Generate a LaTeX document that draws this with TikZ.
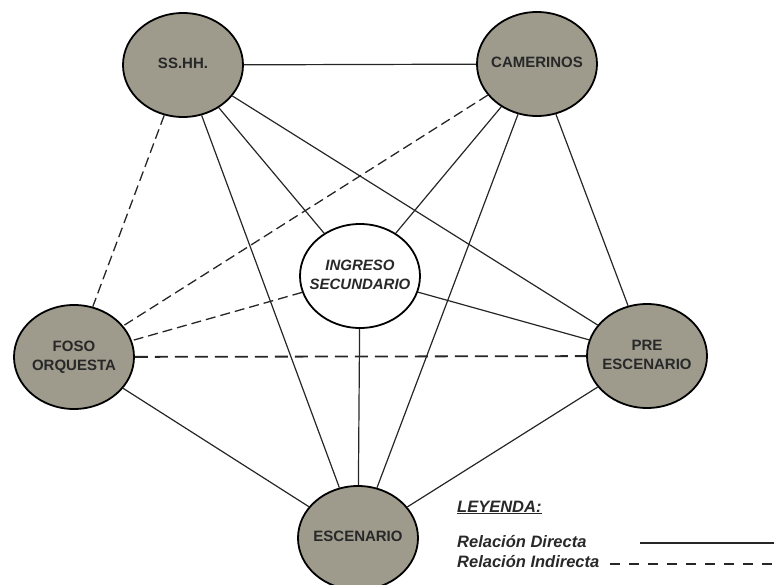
\documentclass[tikz,border=0pt]{standalone}
\usepackage{fontspec}
\setmainfont{Liberation Sans}
\usetikzlibrary{shapes.geometric}
\definecolor{nodefill}{RGB}{158,155,141}
\definecolor{txt}{RGB}{40,40,40}
\newcommand{\lbl}[1]{\makebox[0pt]{\begin{tabular}{@{}c@{}}#1\end{tabular}}}
\tikzset{
  room/.style={ellipse, draw=black, line width=1.8pt, fill=nodefill, minimum width=120pt, minimum height=104pt, inner sep=0pt, text=txt, font=\bfseries\fontsize{15}{19}\selectfont},
  entry/.style={room, fill=white, font=\bfseries\itshape\fontsize{15}{19}\selectfont},
  direct/.style={line width=1.2pt, black!85},
  indirect/.style={line width=1.3pt, black!85, dash pattern=on 10pt off 5pt},
  indirectthick/.style={line width=1.8pt, black!85, dash pattern=on 13pt off 7pt},
  legendtext/.style={anchor=base west, inner sep=0pt, text=txt, font=\bfseries\itshape\fontsize{16.5}{20}\selectfont}
}
\begin{document}
\begin{tikzpicture}[x=1pt,y=-1pt]
\useasboundingbox (0,0) rectangle (774,585);
\node[room] (ss) at (183,65) {\lbl{SS.HH.}};
\node[room] (cam) at (537,64) {\lbl{CAMERINOS}};
\node[entry] (ing) at (360,276) {\lbl{INGRESO\\SECUNDARIO}};
\node[room] (foso) at (74,357) {\lbl{FOSO\\ORQUESTA}};
\node[room] (pre) at (647,356) {\lbl{PRE\\ESCENARIO}};
\node[room] (esc) at (358,538) {\lbl{ESCENARIO}};
% direct relations
\draw[direct] (ss) -- (cam);
\draw[direct] (ss) -- (ing);
\draw[direct] (ss) -- (esc);
\draw[direct] (ss) -- (pre);
\draw[direct] (cam) -- (ing);
\draw[direct] (cam) -- (esc);
\draw[direct] (cam) -- (pre);
\draw[direct] (ing) -- (pre);
\draw[direct] (ing) -- (esc);
\draw[direct] (foso) -- (esc);
\draw[direct] (pre) -- (esc);
% indirect relations
\draw[indirect] (ss) -- (foso);
\draw[indirect] (cam) -- (foso);
\draw[indirect] (ing) -- (foso);
\draw[indirectthick] (foso) -- (pre);
% legend
\node[legendtext] (ley) at (457,512) {\underline{LEYENDA:}};
\node[legendtext] (dir) at (457,547) {Relación Directa};
\node[legendtext] (ind) at (457,567) {Relación Indirecta};
\coordinate (d1) at (640,543);
\coordinate (d2) at (774,543);
\coordinate (i1) at (610,564);
\coordinate (i2) at (774,564);
\draw[line width=2pt, black!85] (d1) -- (d2);
\draw[line width=2pt, black!85, dash pattern=on 10pt off 9pt] (i1) -- (i2);
\end{tikzpicture}
\end{document}
